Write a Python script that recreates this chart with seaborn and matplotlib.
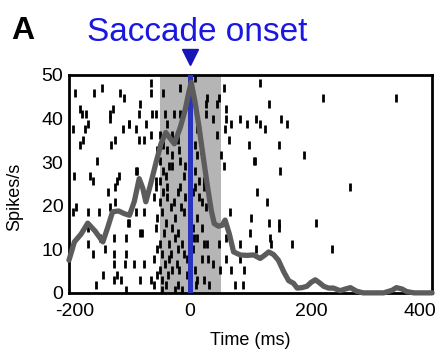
import numpy as np
import pandas as pd
import matplotlib
matplotlib.use("Agg")
import matplotlib.pyplot as plt
import matplotlib.transforms as mtransforms
import seaborn as sns

# ---- data ----
rate_time = [-200, -191, -180, -169, -157, -144, -136, -128, -118, -109,
             -100, -92, -84, -78, -73, -65, -56, -48, -40, -33,
             -26, -16, -8, -2, 2, 8, 15, 22, 29, 35,
             40, 47, 53, 58, 65, 72, 83, 94, 105, 116,
             123, 130, 138, 146, 155, 163, 171, 177, 185, 193,
             200, 207, 214, 221, 229, 237, 248, 257, 265, 275,
             286, 300, 320, 334, 341, 350, 358, 370, 385, 400]
rate_value = [7.5, 11.7, 13.5, 16, 14.2, 11.7, 15, 18.6, 18.8, 18.2,
              17.8, 21, 26.2, 24, 20.9, 25, 30, 34.2, 36.8, 35.5,
              34.2, 38, 42, 46, 48.3, 44, 38, 31, 24.3, 19,
              15.9, 15.3, 15.5, 16.7, 13.5, 9.4, 8.7, 8.6, 8.7, 7.9,
              8.6, 9.4, 8.8, 7.5, 4.8, 2.8, 2.2, 1.1, 1.2, 1.5,
              2.4, 3, 2.3, 1.5, 1.1, 1.1, 0.5, 0.9, 1.2, 0.4,
              0, 0, 0, 0.6, 1.2, 0.9, 0.3, 0, 0, 0]

# spike times (ms) per trial, trial 0 at top
spike_trials = [
    [9],
    [115, -65],
    [-146, -17, 56],
    [-190, -159, -116, -65, -45],
    [-109, 219, 341, 28, 48],
    [130, -82, 26, 45],
    [-181, -128, 59],
    [-179, -172, -132, -85, -63, -57, -42, -27, -16, 26],
    [-132, 109, 151, 38, 59, 82],
    [-168, -100, 115, 160, -101, -72, -38, -2, 68, 94],
    [-194, -174, -111, 124, -89, 12, 58],
    [-64, -30, 45, -50],
    [-176, -124, -85, -76, 64, -20],
    [-182, -130, 147, 9, 97, -45],
    [-38, -19, 18, -55],
    [188, 52, 12, -30],
    [-154, 107, -49, -16, 106],
    [-35, -30, 56, -8],
    [148, -90, -87, 9, -45],
    [-192, -166, -118, -40, -10],
    [-160, -121, -57, -49, 15, 23],
    [265, -124, -57, -38, -16, 9, 23],
    [110, -136, -45, -20, 5],
    [-60, -38, -8, 15],
    [127, -124, -27, 20, -50],
    [-188, -132, -32, 26, -15],
    [-193, -169, -151, -90, -76, -46, -10, 66],
    [12, 100, -55, -25],
    [130, 147, 208, -103, -101, -40],
    [147, -169, -57, 20, -30, 5],
    [-82, -79, -43, 0, 99, -20],
    [132, -148, -126, -106, -25, 7, 11, 59],
    [134, 169, -168, -13, 23, 28, 48, 82, -50, -35],
    [109, 234, -140, -55, -20, 5],
    [-160, -126, -106, -46, -32, -10],
    [20, 29, 60, 82, -60, -35, -5],
    [-125, -107, -93, -76, -42, -22, 38],
    [-19, 8, 49, 68, 89, -50, -30],
    [-143, -121, -36, -55, -5],
    [-114, -125, -82, -65, -46, 12, 23],
    [-155, -60, 31, 75, 88, -40, -20, 10],
    [-106, -46, -24, -13],
]

x_ticks = [-200, 0, 200, 400]
y_ticks = [0, 10, 20, 30, 40, 50]
window = (-50, 52)

# ---- build tables ----
n_trials = len(spike_trials)
row_h = 50.0 / n_trials
spk_t, spk_y = [], []
for k, times in enumerate(spike_trials):
    for t in times:
        spk_t.append(t)
        spk_y.append(50 - (k + 0.5) * row_h)
spikes = pd.DataFrame({"time": spk_t, "y": spk_y})
rate = pd.DataFrame({"time": rate_time, "rate": rate_value})

sns.set_style("white")
plt.rcParams["font.family"] = ["Liberation Sans", "DejaVu Sans"]
plt.rcParams["axes.unicode_minus"] = False
plt.rcParams["text.color"] = "black"
plt.rcParams["axes.labelcolor"] = "black"
plt.rcParams["xtick.color"] = "black"
plt.rcParams["ytick.color"] = "black"

fig = plt.figure(figsize=(4.45, 3.52), dpi=100)
ax = fig.add_axes([0.155, 0.168, 0.816, 0.619])

ax.axvspan(window[0], window[1], color="#b5b5b5", lw=0, zorder=0)
sns.scatterplot(data=spikes, x="time", y="y", marker="|", s=32,
                linewidth=2.0, color="black", ax=ax, zorder=2, legend=False)
ax.axvline(0, color="#2a32c0", lw=3.6, zorder=3)
sns.lineplot(data=rate, x="time", y="rate", color="#5c5c5c", lw=3.8,
             ax=ax, zorder=4, clip_on=False)

ax.set_xlim(-200, 400)
ax.set_ylim(0, 50)
ax.set_xticks(x_ticks)
ax.set_yticks(y_ticks)
ax.tick_params(axis="x", length=0, labelsize=14, pad=7)
ax.tick_params(axis="y", length=0, labelsize=14, pad=4)
ax.set_xlabel("Time (ms)", fontsize=13, labelpad=9)
ax.set_ylabel("Spikes/s", fontsize=13)
ax.yaxis.set_label_coords(-0.125, 0.44)
for sp in ax.spines.values():
    sp.set_visible(True)
    sp.set_color("black")
    sp.set_linewidth(2)

# nudge outer x tick labels inward like the reference
labels = ax.get_xticklabels()
shifts = {0: 4 / 72, len(labels) - 1: -9 / 72}
for i, dx in shifts.items():
    labels[i].set_transform(labels[i].get_transform() +
                            mtransforms.ScaledTranslation(dx, 0, fig.dpi_scale_trans))

ax.plot([0], [54.2], marker="v", markersize=11, color="#1515b8",
        clip_on=False, zorder=5)
fig.text(0.443, 0.908, "Saccade onset", color="#1818e0", fontsize=24,
         ha="center", va="center")
fig.text(0.026, 0.912, "A", fontsize=23, fontweight="bold",
         ha="left", va="center")

fig.savefig("out.png", dpi=100)
